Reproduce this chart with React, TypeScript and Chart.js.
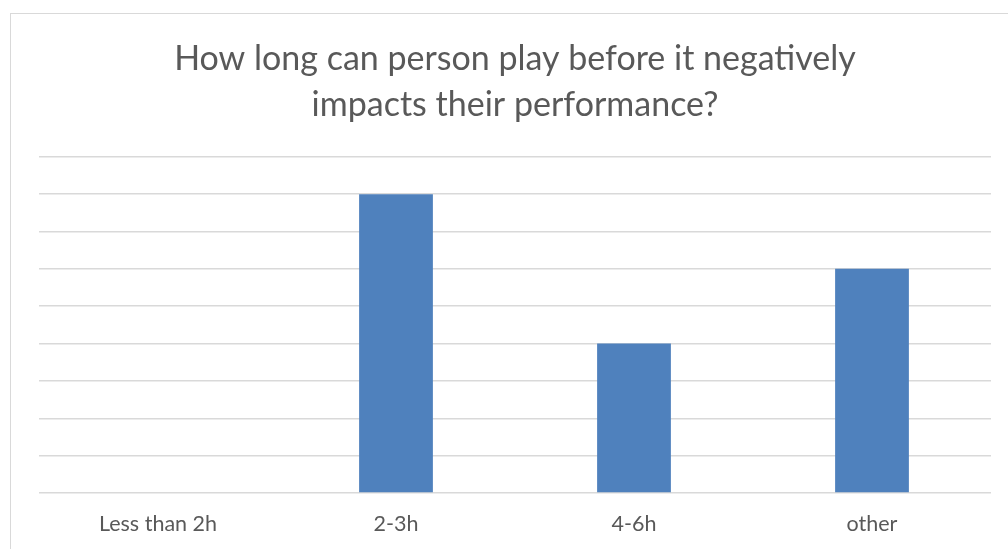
import React, { useEffect, useRef } from "react";
import { Chart, registerables } from "chart.js";

Chart.register(...registerables);

const titleLines = ["How long can person play before it negatively", "impacts their performance?"];
const categories = ["Less than 2h", "2-3h", "4-6h", "other"];
const values = [0, 8, 4, 6];
const yMin = 0;
const yMax = 9;
const yStep = 1;

const FONT = "Lato, 'Open Sans', sans-serif";
const TEXT = "#595959";
const GRID = "#d9d9d9";
const BAR = "#4f81bd";

export default function App() {
  const ref = useRef<HTMLCanvasElement | null>(null);
  useEffect(() => {
    if (!ref.current) return;
    const chart = new Chart(ref.current, {
      type: "bar",
      data: {
        labels: categories,
        datasets: [
          {
            data: values,
            backgroundColor: BAR,
            borderWidth: 0,
            categoryPercentage: 1,
            barPercentage: 0.31,
          },
        ],
      },
      options: {
        animation: false,
        responsive: false,
        layout: { padding: { left: 39, right: 17, top: 0, bottom: 0 } },
        plugins: {
          legend: { display: false },
          tooltip: { enabled: false },
          title: {
            display: true,
            text: titleLines,
            color: TEXT,
            font: { family: FONT, size: 34, weight: "normal", lineHeight: 1.35 },
            padding: { top: 36, bottom: 29 },
          },
        },
        scales: {
          x: {
            grid: { display: false, drawTicks: false },
            border: { display: false },
            ticks: { color: TEXT, font: { family: FONT, size: 21.5 }, padding: 18, maxRotation: 0 },
            afterFit: (s: any) => {
              s.height = 56;
            },
          },
          y: {
            min: yMin,
            max: yMax,
            ticks: { display: false, stepSize: yStep },
            grid: { color: GRID, lineWidth: 1.5, drawTicks: false },
            border: { display: false },
            afterFit: (s: any) => {
              s.width = 0;
            },
          },
        },
      },
    });
    return () => chart.destroy();
  }, []);

  return (
    <div style={{ position: "fixed", left: 0, top: 0, width: 1008, height: 549, overflow: "hidden", background: "#fff" }}>
      <div
        style={{
          position: "absolute",
          left: 10,
          top: 13,
          width: 1100,
          height: 600,
          borderLeft: `1.5px solid ${GRID}`,
          borderTop: `1.5px solid ${GRID}`,
        }}
      />
      <canvas ref={ref} width={1008} height={549} style={{ position: "absolute", left: 0, top: 0 }} />
    </div>
  );
}
